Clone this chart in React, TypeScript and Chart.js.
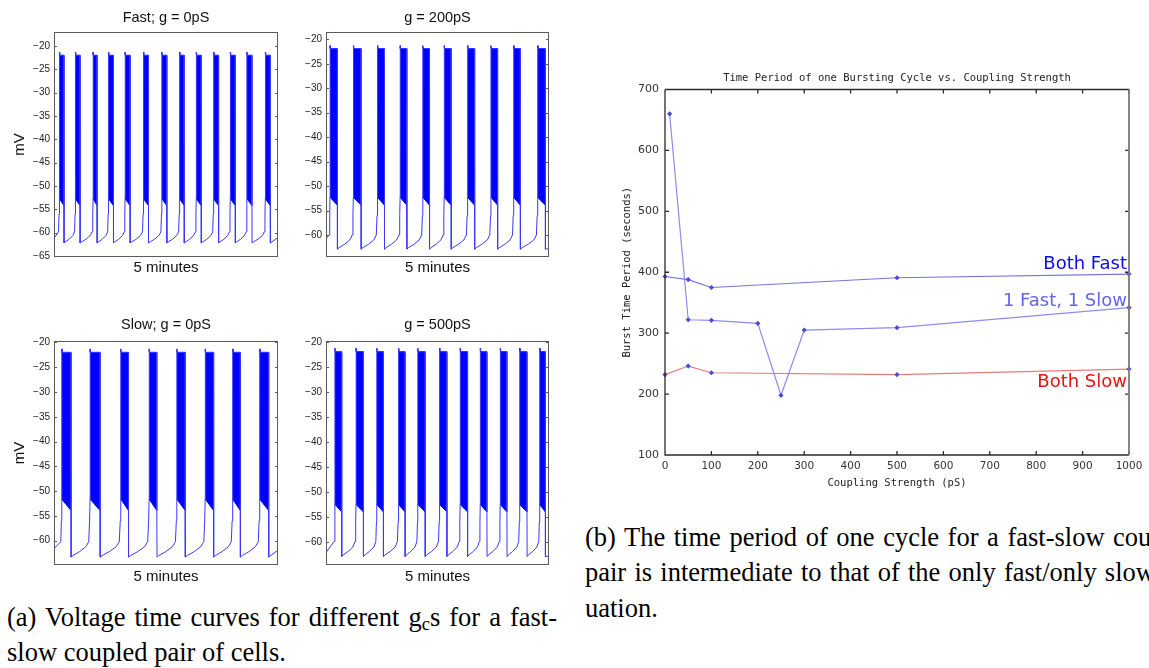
import React, { useEffect, useRef } from 'react';
import { Chart, registerables } from 'chart.js';

Chart.register(...registerables);

// ---------- (a) Voltage traces: burst onset / offset times (s) in the 5-minute window ----------
const fast0Starts = [7.2, 28.6, 52.3, 72.9, 95.2, 119.8, 144.4, 168.1, 190.5, 213.7, 236.1, 258.4, 283.0];
const fast0Ends = [13.4, 34.9, 57.7, 79.6, 101.9, 126.5, 151.1, 174.4, 197.2, 220.4, 242.8, 265.1, 289.7];
const g200Starts = [5.4, 36.8, 69.2, 99.7, 130.2, 159.0, 190.4, 221.9, 252.4, 284.7];
const g200Ends = [15.3, 47.2, 78.6, 108.7, 139.2, 168.4, 199.9, 230.8, 261.4, 295.1];
const slow0Starts = [10.3, 48.3, 89.4, 127.4, 164.5, 202.5, 239.2, 275.4];
const slow0Ends = [22.8, 61.7, 99.7, 137.7, 175.7, 213.7, 249.5, 287.5];
const g500Starts = [12.1, 40.4, 68.3, 97.5, 123.5, 152.7, 180.5, 207.5, 234.4, 260.5, 287.4];
const g500Ends = [21.1, 50.3, 77.2, 106.4, 133.4, 162.6, 190.4, 216.5, 243.4, 270.4, 295.1];

// burst levels (mV): first spike peak, spike plateau, burst floor at onset, burst floor at offset
const fast0Levels = [-21.3, -22.0, -52.7, -54.2];
const g200Levels = [-21.3, -21.9, -52.3, -53.9];
const slow0Levels = [-21.3, -22.0, -51.6, -53.9];
const g500Levels = [-21.3, -22.0, -52.5, -54.0];

// inter-burst recovery (mV), read at these fractions of the silent phase
const recoveryAt = [0.01, 0.1, 0.45, 0.78, 0.93, 0.975];
const fast0Recovery = [-62.2, -62.0, -61.4, -60.6, -59.8, -56.0];
const g200Recovery = [-62.9, -62.6, -61.9, -61.0, -60.0, -56.0];
const slow0Recovery = [-63.3, -63.0, -62.2, -61.2, -60.2, -56.0];
const g500Recovery = [-62.9, -62.6, -61.9, -61.0, -59.9, -56.0];

// trace value at the left and right edge of the window (mV)
const fast0Edges = [-61.2, -61.0];
const g200Edges = [-60.8, -62.8];
const slow0Edges = [-61.6, -61.9];
const g500Edges = [-62.1, -62.8];

const windowSeconds = 300;
const voltageTicks = [-65, -60, -55, -50, -45, -40, -35, -30, -25, -20];

// ---------- (b) Burst period vs coupling strength ----------
const couplingBothFast = [0, 50, 100, 500, 1000];
const periodBothFast = [393, 388, 375, 391, 397];
const couplingMixed = [10, 50, 100, 200, 250, 300, 500, 1000];
const periodMixed = [660, 322, 321, 316, 198, 305, 309, 342];
const couplingBothSlow = [0, 50, 100, 500, 1000];
const periodBothSlow = [232, 246, 235, 232, 241];
const curveNames = ['Both Fast', '1 Fast, 1 Slow', 'Both Slow'];
const curveNameAnchors = [405, 344, 211];

const SANS = '"Liberation Sans", Arial, Helvetica, sans-serif';
const MONO = '"DejaVu Sans Mono", "Liberation Mono", monospace';
const DEJAVU = '"DejaVu Sans", sans-serif';
const SERIF = '"Liberation Serif", "Times New Roman", serif';

type Pt = { x: number; y: number | null };

function buildTrace(starts: number[], ends: number[], levels: number[], recovery: number[], edges: number[]): Pt[] {
  const [peak, plateau, b0, b1] = levels;
  const pts: Pt[] = [{ x: 0, y: edges[0] }];
  const s0 = starts[0];
  pts.push({ x: s0 - 1.2, y: recovery[4] }, { x: s0 - 0.4, y: recovery[5] });
  for (let i = 0; i < starts.length; i++) {
    const s = starts[i];
    const e = ends[i];
    pts.push({ x: s, y: b0 }, { x: s, y: peak }, { x: s + 0.4, y: plateau }, { x: e, y: plateau }, { x: e, y: b1 });
    if (i < starts.length - 1) {
      const gap = starts[i + 1] - e;
      for (let k = 0; k < recoveryAt.length; k++) pts.push({ x: e + recoveryAt[k] * gap, y: recovery[k] });
    } else {
      pts.push({ x: e + 0.2, y: recovery[0] }, { x: windowSeconds, y: edges[1] });
    }
  }
  return pts;
}

function buildBurstEdges(starts: number[], ends: number[], levels: number[]): [Pt[], Pt[]] {
  const [peak, plateau, b0, b1] = levels;
  const top: Pt[] = [];
  const bottom: Pt[] = [];
  for (let i = 0; i < starts.length; i++) {
    const s = starts[i];
    const e = ends[i];
    top.push({ x: s, y: peak }, { x: s + 0.4, y: plateau }, { x: e, y: plateau }, { x: e, y: null });
    bottom.push({ x: s, y: b0 }, { x: e, y: b1 }, { x: e, y: null });
  }
  return [top, bottom];
}

const minusFmt = (v: any) => (Number(v) < 0 ? '\u2212' + Math.abs(Number(v)) : String(v));

const smallBoxPlugin = {
  id: 'smallBox',
  afterDatasetsDraw(chart: any) {
    const { ctx, chartArea: a, scales } = chart;
    const y = scales.y;
    ctx.save();
    ctx.strokeStyle = '#5a5a5a';
    ctx.lineWidth = 1;
    ctx.strokeRect(Math.round(a.left) + 0.5, Math.round(a.top) + 0.5, Math.round(a.right - a.left) - 1, Math.round(a.bottom - a.top) - 1);
    ctx.beginPath();
    y.ticks.forEach((t: any) => {
      const py = Math.round(y.getPixelForValue(t.value)) + 0.5;
      ctx.moveTo(a.left, py);
      ctx.lineTo(a.left + 3, py);
      ctx.moveTo(a.right, py);
      ctx.lineTo(a.right - 3, py);
    });
    ctx.stroke();
    ctx.restore();
  },
};

type PanelProps = {
  left: number; top: number; width: number; height: number;
  yAxisWidth: number; padRight: number; titlePad: [number, number];
  xBox: number; xTitlePadBottom: number; showMV: boolean; title: string;
  yMin: number; yMax: number;
  starts: number[]; ends: number[]; levels: number[]; recovery: number[]; edges: number[];
};

function VoltagePanel(p: PanelProps) {
  const ref = useRef<HTMLCanvasElement>(null);
  useEffect(() => {
    const trace = buildTrace(p.starts, p.ends, p.levels, p.recovery, p.edges);
    const [top, bottom] = buildBurstEdges(p.starts, p.ends, p.levels);
    const chart = new Chart(ref.current as HTMLCanvasElement, {
      type: 'line',
      data: {
        datasets: [
          { data: top as any, borderColor: '#0000ff', backgroundColor: '#0000ff', borderWidth: 1, pointRadius: 0, fill: '+1', spanGaps: false, order: 1 },
          { data: bottom as any, borderColor: '#0000ff', borderWidth: 1, pointRadius: 0, fill: false, spanGaps: false, order: 1 },
          { data: trace as any, borderColor: '#3838ff', borderWidth: 1, pointRadius: 0, fill: false, order: 0 },
        ],
      },
      options: {
        responsive: false,
        animation: false,
        events: [],
        layout: { padding: { left: 0, right: p.padRight, top: 0, bottom: 0 } },
        plugins: {
          legend: { display: false },
          tooltip: { enabled: false },
          title: {
            display: true, text: p.title, fullSize: false, color: '#111',
            font: { family: SANS, size: 14.5, weight: 'normal' },
            padding: { top: p.titlePad[0], bottom: p.titlePad[1] },
          },
        },
        scales: {
          x: {
            type: 'linear', min: 0, max: windowSeconds,
            ticks: { display: false }, grid: { display: false, drawTicks: false }, border: { display: false },
            title: { display: true, text: '5 minutes', color: '#111', font: { family: SANS, size: 15 }, padding: { top: 0, bottom: p.xTitlePadBottom } },
            afterFit: (s: any) => { s.height = p.xBox; },
          },
          y: {
            type: 'linear', min: p.yMin, max: p.yMax,
            afterBuildTicks: (s: any) => { s.ticks = voltageTicks.filter((v) => v >= p.yMin && v <= p.yMax).map((v) => ({ value: v })); },
            ticks: { padding: 4, color: '#222', font: { family: SANS, size: 10 }, callback: minusFmt },
            grid: { display: false, drawTicks: false }, border: { display: false },
            title: { display: p.showMV, text: 'mV', color: '#111', font: { family: SANS, size: 15 }, padding: { top: 11, bottom: 0 } },
            afterFit: (s: any) => { s.width = p.yAxisWidth; },
          },
        },
      } as any,
      plugins: [smallBoxPlugin],
    });
    return () => chart.destroy();
  }, []);
  return (
    <canvas ref={ref} width={p.width} height={p.height}
      style={{ position: 'absolute', left: p.left, top: p.top, width: p.width, height: p.height }} />
  );
}

const periodPlugin = {
  id: 'periodBox',
  afterDatasetsDraw(chart: any) {
    const { ctx, chartArea: a, scales } = chart;
    const x = scales.x;
    const y = scales.y;
    ctx.save();
    ctx.lineWidth = 1.3;
    ctx.strokeStyle = '#2a2a2a';
    ctx.beginPath();
    ctx.moveTo(a.left, a.top);
    ctx.lineTo(a.left, a.bottom);
    ctx.lineTo(a.right, a.bottom);
    ctx.moveTo(a.left, a.top);
    ctx.lineTo(a.right, a.top);
    x.ticks.forEach((t: any) => {
      const px = x.getPixelForValue(t.value);
      ctx.moveTo(px, a.bottom); ctx.lineTo(px, a.bottom - 4);
      ctx.moveTo(px, a.top); ctx.lineTo(px, a.top + 4);
    });
    y.ticks.forEach((t: any) => {
      const py = y.getPixelForValue(t.value);
      ctx.moveTo(a.left, py); ctx.lineTo(a.left + 4, py);
      ctx.moveTo(a.right, py); ctx.lineTo(a.right - 4, py);
    });
    ctx.stroke();
    ctx.strokeStyle = '#7a7a7a';
    ctx.lineWidth = 1.8;
    ctx.beginPath();
    ctx.moveTo(a.right, a.top);
    ctx.lineTo(a.right, a.bottom);
    ctx.stroke();
    const colors = ['#0c0ce6', '#6464f0', '#ea1212'];
    ctx.font = `18px ${DEJAVU}`;
    ctx.textAlign = 'right';
    ctx.textBaseline = 'alphabetic';
    curveNames.forEach((name, i) => {
      ctx.fillStyle = colors[i];
      ctx.fillText(name, x.getPixelForValue(1000) - 2, y.getPixelForValue(curveNameAnchors[i]));
    });
    ctx.restore();
  },
};

function PeriodChart() {
  const ref = useRef<HTMLCanvasElement>(null);
  useEffect(() => {
    const toPts = (xs: number[], ys: number[]) => xs.map((v, i) => ({ x: v, y: ys[i] }));
    const marker = { pointStyle: 'rectRot', pointRadius: 2.6, pointBackgroundColor: '#4a4ad6', pointBorderColor: '#4a4ad6', pointBorderWidth: 0 };
    const chart = new Chart(ref.current as HTMLCanvasElement, {
      type: 'line',
      data: {
        datasets: [
          { data: toPts(couplingBothFast, periodBothFast) as any, borderColor: '#7474e4', borderWidth: 1.2, fill: false, clip: 6, ...marker },
          { data: toPts(couplingMixed, periodMixed) as any, borderColor: '#8c8cf2', borderWidth: 1.2, fill: false, clip: 6, ...marker },
          { data: toPts(couplingBothSlow, periodBothSlow) as any, borderColor: '#e47c7c', borderWidth: 1.2, fill: false, clip: 6, ...marker },
        ],
      },
      options: {
        responsive: false,
        animation: false,
        events: [],
        layout: { padding: { left: 0, right: 20, top: 0, bottom: 0 } },
        plugins: {
          legend: { display: false },
          tooltip: { enabled: false },
          title: {
            display: true, text: 'Time Period of one Bursting Cycle vs. Coupling Strength', fullSize: false,
            color: '#222', font: { family: MONO, size: 10.5, weight: 'normal' }, padding: { top: 11.7, bottom: 5.2 },
          },
        },
        scales: {
          x: {
            type: 'linear', min: 0, max: 1000,
            ticks: { stepSize: 100, padding: 5, color: '#333', font: { family: DEJAVU, size: 10.5 }, maxRotation: 0, callback: (v: any) => String(v) },
            grid: { display: false, drawTicks: false }, border: { display: false },
            title: { display: true, text: 'Coupling Strength (pS)', color: '#222', font: { family: MONO, size: 10.5 }, padding: { top: 0, bottom: 10 } },
            afterFit: (s: any) => { s.height = 45; },
          },
          y: {
            type: 'linear', min: 100, max: 700,
            ticks: { stepSize: 100, padding: 6, color: '#333', font: { family: DEJAVU, size: 11 }, callback: (v: any) => String(v) },
            grid: { display: false, drawTicks: false }, border: { display: false },
            title: { display: true, text: 'Burst Time Period (seconds)', color: '#222', font: { family: MONO, size: 10.5 }, padding: { top: 21, bottom: 0 } },
            afterFit: (s: any) => { s.width = 65; },
          },
        },
      } as any,
      plugins: [periodPlugin],
    });
    return () => chart.destroy();
  }, []);
  return <canvas ref={ref} width={549} height={440} style={{ position: 'absolute', left: 600, top: 60, width: 549, height: 440 }} />;
}

const capLine = (left: number, baseline: number, width: number | null, justify: boolean, children: any) => (
  <div style={{
    position: 'absolute', left, top: baseline - 24.2, width: width ?? undefined, whiteSpace: 'nowrap',
    fontFamily: SERIF, fontSize: 26.5, lineHeight: '30px', color: '#000',
    textAlign: justify ? 'justify' : 'left', textAlignLast: justify ? 'justify' : 'left',
  } as any}>{children}</div>
);

export default function App() {
  return (
    <div style={{ position: 'fixed', left: 0, top: 0, width: 1149, height: 668, overflow: 'hidden', background: '#fff' }}>
      <VoltagePanel left={0} top={0} width={290} height={285} yAxisWidth={54} padRight={12} titlePad={[9, 5.6]}
        xBox={28} xTitlePadBottom={8} showMV title="Fast; g = 0pS" yMin={-65.2} yMax={-17.0}
        starts={fast0Starts} ends={fast0Ends} levels={fast0Levels} recovery={fast0Recovery} edges={fast0Edges} />
      <VoltagePanel left={290} top={0} width={270} height={285} yAxisWidth={36} padRight={11} titlePad={[9, 5.6]}
        xBox={28} xTitlePadBottom={8} showMV={false} title="g = 200pS" yMin={-64.5} yMax={-18.5}
        starts={g200Starts} ends={g200Ends} levels={g200Levels} recovery={g200Recovery} edges={g200Edges} />
      <VoltagePanel left={0} top={310} width={290} height={285} yAxisWidth={54} padRight={12} titlePad={[6.3, 7.3]}
        xBox={30} xTitlePadBottom={9.3} showMV title="Slow; g = 0pS" yMin={-64.9} yMax={-19.7}
        starts={slow0Starts} ends={slow0Ends} levels={slow0Levels} recovery={slow0Recovery} edges={slow0Edges} />
      <VoltagePanel left={290} top={310} width={270} height={285} yAxisWidth={36} padRight={11} titlePad={[6.3, 7.3]}
        xBox={30} xTitlePadBottom={9.3} showMV={false} title="g = 500pS" yMin={-64.6} yMax={-19.85}
        starts={g500Starts} ends={g500Ends} levels={g500Levels} recovery={g500Recovery} edges={g500Edges} />
      <PeriodChart />
      {capLine(7, 626, 550, true, <>(a) Voltage time curves for different g<sub style={{ fontSize: '0.7em', verticalAlign: '-0.2em', lineHeight: 0 }}>c</sub>s for a fast-</>)}
      {capLine(7, 661, null, false, 'slow coupled pair of cells.')}
      {capLine(585, 546, 612, true, '(b) The time period of one cycle for a fast-slow coupled')}
      {capLine(585, 581, 612, true, 'pair is intermediate to that of the only fast/only slow sit-')}
      {capLine(585, 617, null, false, 'uation.')}
    </div>
  );
}
